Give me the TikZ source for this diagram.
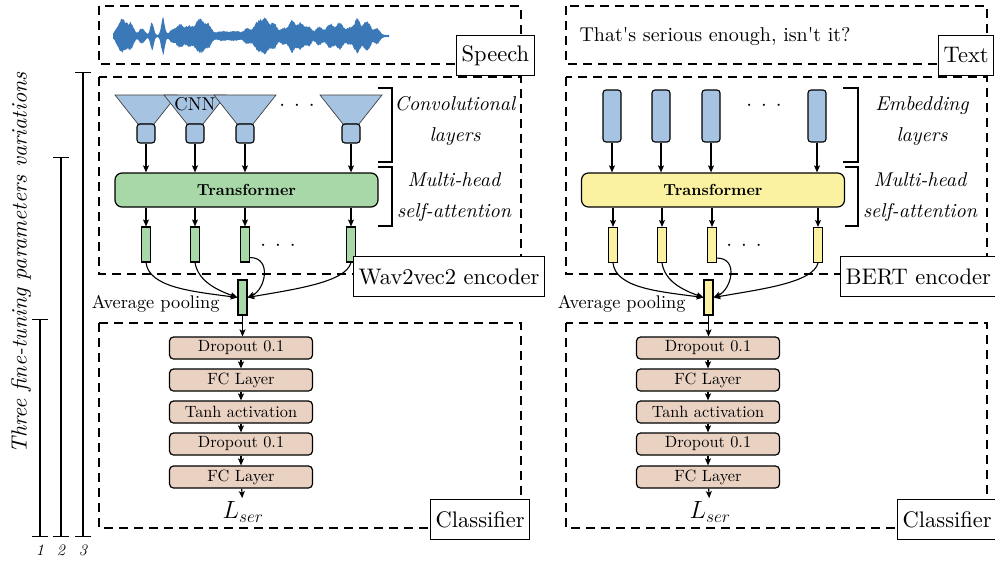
\documentclass[tikz,border=0pt]{standalone}
\usepackage{fontspec}
\setmainfont{lmroman10}[Extension=.otf, UprightFont=*-regular, ItalicFont=*-italic, BoldFont=*-bold, BoldItalicFont=*-bolditalic]
\usetikzlibrary{arrows.meta,calc}
\definecolor{blueF}{RGB}{166,196,226}
\definecolor{greenF}{RGB}{168,216,168}
\definecolor{yellowF}{RGB}{250,242,160}
\definecolor{brownF}{RGB}{234,210,194}
\definecolor{waveC}{RGB}{58,120,184}
\newcommand{\fsz}[2]{\fontsize{#1}{#2}\selectfont}
\tikzset{
  dashbox/.style={draw, line width=1.3pt, dash pattern=on 9pt off 6pt},
  lbl/.style={draw, fill=white, line width=1.3pt, font=\fsz{22.5}{27}, inner xsep=5pt, minimum height=40pt, anchor=west},
  arr/.style={-{Stealth[length=7pt,width=6pt,inset=1.5pt]}, line width=1.1pt},
  sq/.style={draw, fill=blueF, rounded corners=3pt, minimum width=18pt, minimum height=19pt, inner sep=0pt, line width=1.1pt},
  emb/.style={draw, fill=blueF, rounded corners=3pt, minimum width=18pt, minimum height=52pt, inner sep=0pt, line width=1.1pt},
  trap/.style={draw=black!75, fill=blueF, line width=0.7pt},
  bar/.style={draw, minimum width=9pt, minimum height=35pt, inner sep=0pt, line width=1.1pt},
  trans/.style={draw, rounded corners=7pt, minimum width=263pt, minimum height=34pt, line width=1.2pt, font=\fsz{16}{18}\bfseries},
  layer/.style={draw, fill=brownF, rounded corners=4pt, minimum width=143pt, minimum height=22pt, inner sep=0pt, line width=1.2pt, font=\fsz{16.3}{18}},
  brk/.style={line width=1.3pt},
  side/.style={font=\fsz{20}{31}\itshape, align=center},
  dotsn/.style={font=\fsz{20}{24}},
  rng/.style={line width=1.1pt, {Bar[width=16pt,line width=1.1pt]}-{Bar[width=16pt,line width=1.1pt]}},
  declare function={bp(\x,\c,\w)=exp(-min(abs(\x-\c)/\w,3)^2);
    env(\x)=1.1+17*bp(\x,122,6)+11*bp(\x,131,4)+7*bp(\x,142,4)+14*bp(\x,152,2.4)+19*bp(\x,163,2.4)
      +5*bp(\x,172,4)+11*bp(\x,180,5)+9*bp(\x,189,4.5)+17*bp(\x,200,6.5)+9*bp(\x,209,4)
      +4*bp(\x,222,8)+4*bp(\x,236,7)+7*bp(\x,247,4)+12*bp(\x,257,5.5)+16*bp(\x,265,5.5)
      +12*bp(\x,274,4.5)+7*bp(\x,283,4)+16*bp(\x,292,5)+12*bp(\x,301,4.5)+9*bp(\x,309,4)
      +9*bp(\x,319,4.5)+12*bp(\x,330,5)+13*bp(\x,340,5)+7*bp(\x,349,3.5)+17*bp(\x,357,4.5)
      +15*bp(\x,367,5)+7*bp(\x,377,4);}
}
\begin{document}
\begin{tikzpicture}[x=1pt,y=-1pt]
\useasboundingbox (0,0) rectangle (995,560);
\clip (0,0) rectangle (995,560);

% ---------------- left column: speech ----------------
\draw[dashbox] (99,6) rectangle (521,64);
\draw[dashbox] (99,77) rectangle (521,274);
\draw[dashbox] (99,323) rectangle (521,528);

% waveform
\pgfmathsetseed{7}
\fill[waveC] plot[domain=113:389, samples=420] (\x,{36-env(\x)*(0.8+0.2*rnd)})
  -- plot[domain=389:113, samples=420] (\x,{36+env(\x)*(0.8+0.2*rnd)}) -- cycle;

% CNN trapezoids
\foreach \cx in {146,195,245,351} {
  \draw[trap] (\cx-8,124) -- (\cx-31,95) -- (\cx+31,95) -- (\cx+8,124) -- cycle;
}
\node[font=\fsz{18.5}{20}, inner sep=0pt] (cnn) at (195,104) {CNN};
\node[sq] (c1) at (146,133.5) {};
\node[sq] (c2) at (195,133.5) {};
\node[sq] (c3) at (245,133.5) {};
\node[sq] (c4) at (351,133.5) {};
\node[dotsn] (dl1) at (297,106) {$\cdot$\hspace{9pt}$\cdot$\hspace{9pt}$\cdot$};

\node[trans, fill=greenF] (tl) at (246.5,190) {Transformer};
\foreach \i in {1,2,3,4} { \draw[arr] (c\i) -- (c\i |- tl.north); }

\node[bar, fill=greenF] (g1) at (146,244.5) {};
\node[bar, fill=greenF] (g2) at (195,244.5) {};
\node[bar, fill=greenF] (g3) at (245,244.5) {};
\node[bar, fill=greenF] (g4) at (351,244.5) {};
\node[dotsn] (dl2) at (278,246) {$\cdot$\hspace{9pt}$\cdot$\hspace{9pt}$\cdot$};
\foreach \i in {1,2,3,4} { \draw[arr] (g\i |- tl.south) -- (g\i.north); }

\node[bar, fill=greenF] (gp) at (242.5,297.5) {};
\draw[arr] (g1.south) .. controls +(3,25) and +(-45,-6) .. (gp.west);
\draw[arr] (g2.south) .. controls +(3,18) and +(-22,-8) .. (gp.west);
\draw[arr] ($(g3.south east)+(0,-5)$) .. controls +(22,0) and +(18,-8) .. (gp.east);
\draw[arr] (g4.south) .. controls +(-5,20) and +(45,-8) .. (gp.east);
\node[font=\fsz{18.3}{22}, anchor=east] (apl) at (223,304) {Average pooling};

% brackets
\draw[brk] (378,88) -- (392,88) -- (392,162) -- (378,162);
\draw[brk] (378,167) -- (392,167) -- (392,226) -- (378,226);
\node[side] (cvl) at (455,121) {Convolutional\\layers};
\node[side] (mhl) at (454,197) {Multi-head\\self-attention};

% classifier
\node[layer] (d1) at (241,348) {Dropout 0.1};
\node[layer] (f1) at (241,380) {FC Layer};
\node[layer] (t1) at (241,412) {Tanh activation};
\node[layer] (d2) at (241,444) {Dropout 0.1};
\node[layer] (f2) at (241,477) {FC Layer};
\node[font=\fsz{24}{28}] (ls) at (243,512) {$L_{ser}$};
\draw[arr] (gp.south) -- (gp.south |- d1.north);
\draw[arr] (d1) -- (f1);
\draw[arr] (f1) -- (t1);
\draw[arr] (t1) -- (d2);
\draw[arr] (d2) -- (f2);
\draw[arr] (f2) -- (ls);

% labels
\node[lbl] (spl) at (456,55.5) {Speech};
\node[lbl] (wvl) at (353,276.5) {Wav2vec2 encoder};
\node[lbl] (cll) at (430,519.5) {Classifier};

% ---------------- right column: text ----------------
\draw[dashbox] (566,6) rectangle (987,64);
\draw[dashbox] (566,77) rectangle (987,274);
\draw[dashbox] (566,323) rectangle (987,528);
\node[font=\fsz{20}{24}, anchor=west] (sent) at (576,37) {That\textquotesingle s serious enough, isn\textquotesingle t it?};

\begin{scope}[xshift=467pt]
\node[emb] (e1) at (145,116) {};
\node[emb] (e2) at (194,116) {};
\node[emb] (e3) at (244,116) {};
\node[emb] (e4) at (350,116) {};
\node[dotsn] (dr1) at (297,106) {$\cdot$\hspace{9pt}$\cdot$\hspace{9pt}$\cdot$};
\node[trans, fill=yellowF] (tr) at (246,190) {Transformer};
\foreach \i in {1,2,3,4} { \draw[arr] (e\i) -- (e\i |- tr.north); }
\node[bar, fill=yellowF] (y1) at (146,245) {};
\node[bar, fill=yellowF] (y2) at (195,245) {};
\node[bar, fill=yellowF] (y3) at (245,245) {};
\node[bar, fill=yellowF] (y4) at (351,245) {};
\node[dotsn] (dr2) at (277,246) {$\cdot$\hspace{9pt}$\cdot$\hspace{9pt}$\cdot$};
\foreach \i in {1,2,3,4} { \draw[arr] (y\i |- tr.south) -- (y\i.north); }
\node[bar, fill=yellowF] (yp) at (241.5,297.5) {};
\draw[arr] (y1.south) .. controls +(3,25) and +(-45,-6) .. (yp.west);
\draw[arr] (y2.south) .. controls +(3,18) and +(-22,-8) .. (yp.west);
\draw[arr] ($(y3.south east)+(0,-5)$) .. controls +(22,0) and +(18,-8) .. (yp.east);
\draw[arr] (y4.south) .. controls +(-5,20) and +(45,-8) .. (yp.east);
\node[font=\fsz{18.3}{22}, anchor=east] (apr) at (222,304) {Average pooling};
\draw[brk] (376,88) -- (391,88) -- (391,162) -- (376,162);
\draw[brk] (378,167) -- (391,167) -- (391,226) -- (378,226);
\node[side] (eml) at (455,121) {Embedding\\layers};
\node[side] (mhr) at (453,197) {Multi-head\\self-attention};
\node[layer] (rd1) at (241,348) {Dropout 0.1};
\node[layer] (rf1) at (241,380) {FC Layer};
\node[layer] (rt1) at (241,412) {Tanh activation};
\node[layer] (rd2) at (241,444) {Dropout 0.1};
\node[layer] (rf2) at (241,477) {FC Layer};
\node[font=\fsz{24}{28}] (rls) at (243,512) {$L_{ser}$};
\draw[arr] (yp.south) -- (yp.south |- rd1.north);
\draw[arr] (rd1) -- (rf1);
\draw[arr] (rf1) -- (rt1);
\draw[arr] (rt1) -- (rd2);
\draw[arr] (rd2) -- (rf2);
\draw[arr] (rf2) -- (rls);
\end{scope}

\node[lbl] (txl) at (938,55.5) {Text};
\node[lbl] (bel) at (840,276.5) {BERT encoder};
\node[lbl] (clr) at (897,519.5) {Classifier};

% ---------------- left: fine-tuning ranges ----------------
\coordinate (r1t) at (40,319);
\coordinate (r1b) at (40,537);
\coordinate (r2t) at (61,157);
\coordinate (r2b) at (61,537);
\coordinate (r3t) at (83,72);
\coordinate (r3b) at (83,537);
\draw[rng] (r1t) -- (r1b);
\draw[rng] (r2t) -- (r2b);
\draw[rng] (r3t) -- (r3b);
\node[font=\fsz{16}{18}\itshape] (n1) at (40,550) {1};
\node[font=\fsz{16}{18}\itshape] (n2) at (61,550) {2};
\node[font=\fsz{16}{18}\itshape] (n3) at (83,550) {3};
\node[rotate=90, font=\fsz{22}{26}\itshape] (ttl) at (21,263) {Three fine-tuning parameters variations};
\end{tikzpicture}
\end{document}
